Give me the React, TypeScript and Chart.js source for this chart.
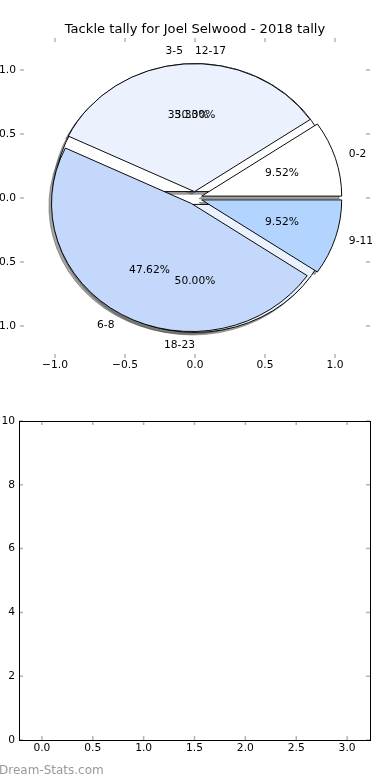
import React, { useEffect, useRef } from "react";
import { Chart, registerables } from "chart.js";

Chart.register(...registerables);

const FONT = "'DejaVu Sans', 'Liberation Sans', sans-serif";

const chartTitle = "Tackle tally for Joel Selwood - 2018 tally";
// pie drawn on top
const tallyLabels = ["0-2", "3-5", "6-8", "9-11"];
const tallyGames = [2, 7, 10, 2];
const tallyColors = ["#ffffff", "#ebf2fe", "#c4d8fc", "#b3d4fe"];
// pie drawn beneath
const highLabels = ["12-17", "18-23"];
const highGames = [1, 1];
const highColors = ["#ffffff", "#ebf2fe"];
const explodeFraction = 0.05;
const pieTickValues = [-1, -0.5, 0, 0.5, 1];
const blankXTickValues = [0, 0.5, 1, 1.5, 2, 2.5, 3];
const blankYTickValues = [0, 2, 4, 6, 8, 10];
const watermark = "Dream-Stats.com";

const TICK_SIZE = 10.7;

const fmt1 = (v: number) => (v < 0 ? "\u2212" : "") + Math.abs(v).toFixed(1);

function geom(chart: any) {
  const sx = chart.scales.x;
  const sy = chart.scales.y;
  const cx = sx.getPixelForValue(0);
  const cy = sy.getPixelForValue(0);
  const rx = sx.getPixelForValue(1) - cx;
  const ry = cy - sy.getPixelForValue(1);
  return { sx, sy, cx, cy, rx, ry, k: ry / rx };
}

function applyEllipse(ctx: CanvasRenderingContext2D, g: any) {
  ctx.translate(g.cx, g.cy);
  ctx.scale(1, -g.k);
  ctx.translate(-g.cx, -g.cy);
}

function drawPieTexts(ctx: CanvasRenderingContext2D, g: any, labels: string[], values: number[]) {
  const total = values.reduce((a, b) => a + b, 0);
  let acc = 0;
  values.forEach((v, i) => {
    const t1 = acc / total;
    acc += v;
    const t2 = acc / total;
    const thetam = Math.PI * (t1 + t2);
    const ex = explodeFraction * Math.cos(thetam);
    const ey = explodeFraction * Math.sin(thetam);
    const xt = ex + 1.1 * Math.cos(thetam);
    const yt = ey + 1.1 * Math.sin(thetam);
    ctx.textAlign = xt > 0 ? "left" : "right";
    ctx.fillText(labels[i], g.sx.getPixelForValue(xt), g.sy.getPixelForValue(yt));
    const xp = ex + 0.6 * Math.cos(thetam);
    const yp = ey + 0.6 * Math.sin(thetam);
    ctx.textAlign = "center";
    ctx.fillText(`${((100 * v) / total).toFixed(2)}%`, g.sx.getPixelForValue(xp), g.sy.getPixelForValue(yp));
  });
}

const piePlugin = {
  id: "pieLayout",
  afterDatasetsUpdate(chart: any) {
    const g = geom(chart);
    const d = explodeFraction * g.rx;
    chart.data.datasets.forEach((_: any, i: number) => {
      const meta = chart.getDatasetMeta(i);
      meta.data.forEach((arc: any) => {
        const mid = (arc.startAngle + arc.endAngle) / 2;
        arc.x = g.cx + Math.cos(mid) * d;
        arc.y = g.cy + Math.sin(mid) * d;
        arc.innerRadius = 0;
        arc.outerRadius = g.rx;
      });
    });
  },
  beforeDatasetsDraw(chart: any) {
    const ctx: CanvasRenderingContext2D = chart.ctx;
    const g = geom(chart);
    // shadows beneath every wedge
    ctx.save();
    ctx.translate(-2.6, 2.6);
    applyEllipse(ctx, g);
    ctx.fillStyle = "rgba(77,77,77,0.5)";
    ctx.strokeStyle = "rgba(77,77,77,0.5)";
    ctx.lineWidth = 1;
    chart.data.datasets.forEach((_: any, i: number) => {
      chart.getDatasetMeta(i).data.forEach((arc: any) => {
        ctx.beginPath();
        ctx.moveTo(arc.x, arc.y);
        ctx.arc(arc.x, arc.y, arc.outerRadius, arc.startAngle, arc.endAngle);
        ctx.closePath();
        ctx.fill();
        ctx.stroke();
      });
    });
    ctx.restore();
    ctx.save();
    applyEllipse(ctx, g);
  },
  afterDatasetsDraw(chart: any) {
    const ctx: CanvasRenderingContext2D = chart.ctx;
    ctx.restore();
    const g = geom(chart);
    ctx.save();
    ctx.fillStyle = "#000";
    ctx.font = `${TICK_SIZE}px ${FONT}`;
    ctx.textBaseline = "middle";
    drawPieTexts(ctx, g, highLabels, highGames);
    drawPieTexts(ctx, g, tallyLabels, tallyGames);
    ctx.restore();
  },
};

const innerTicksPlugin = (frame: boolean) => ({
  id: "innerTicks",
  afterDraw(chart: any) {
    const { ctx, chartArea: a, scales } = chart;
    ctx.save();
    ctx.strokeStyle = "#b4b4b4";
    ctx.lineWidth = 1.5;
    ctx.beginPath();
    scales.x.ticks.forEach((t: any) => {
      const p = scales.x.getPixelForValue(t.value);
      ctx.moveTo(p, a.top);
      ctx.lineTo(p, a.top + 4);
      ctx.moveTo(p, a.bottom);
      ctx.lineTo(p, a.bottom - 4);
    });
    scales.y.ticks.forEach((t: any) => {
      const p = scales.y.getPixelForValue(t.value);
      ctx.moveTo(a.left, p);
      ctx.lineTo(a.left + 4, p);
      ctx.moveTo(a.right, p);
      ctx.lineTo(a.right - 4, p);
    });
    ctx.stroke();
    if (frame) {
      ctx.strokeStyle = "#000";
      ctx.lineWidth = 1;
      ctx.strokeRect(Math.round(a.left) + 0.5, Math.round(a.top) + 0.5, Math.round(a.right - a.left), Math.round(a.bottom - a.top));
    }
    ctx.restore();
  },
});

function axisOpts(ticksArr: number[], min: number, max: number, fmt: (v: number) => string, size: { width?: number; height?: number }, padding: number) {
  return {
    type: "linear" as const,
    min,
    max,
    grid: { display: false, drawTicks: false },
    border: { display: false },
    afterBuildTicks: (axis: any) => {
      axis.ticks = ticksArr.map((v) => ({ value: v }));
    },
    afterFit: (scale: any) => {
      if (size.width !== undefined) scale.width = size.width;
      if (size.height !== undefined) scale.height = size.height;
    },
    ticks: {
      autoSkip: false,
      maxRotation: 0,
      minRotation: 0,
      padding,
      color: "#000",
      font: { family: FONT, size: TICK_SIZE },
      callback: (v: any) => fmt(Number(v)),
    },
  };
}

export default function App() {
  const topRef = useRef<HTMLCanvasElement>(null);
  const botRef = useRef<HTMLCanvasElement>(null);

  useEffect(() => {
    const top = new Chart(topRef.current as HTMLCanvasElement, {
      type: "pie",
      data: {
        labels: tallyLabels,
        datasets: [
          { data: tallyGames, backgroundColor: tallyColors, borderColor: "#000", borderWidth: 1, borderJoinStyle: "miter" } as any,
          { data: highGames, backgroundColor: highColors, borderColor: "#000", borderWidth: 1, borderJoinStyle: "miter" } as any,
        ],
      },
      options: {
        responsive: false,
        animation: false,
        events: [],
        rotation: 90,
        layout: { padding: { left: 0, right: 0, top: 0, bottom: 0 } },
        plugins: {
          legend: { display: false },
          tooltip: { enabled: false },
          title: {
            display: true,
            text: chartTitle,
            color: "#000",
            font: { family: FONT, size: 13.1, weight: "normal" },
            padding: { top: 22, bottom: 0.3 },
          },
        },
        scales: {
          x: { ...axisOpts(pieTickValues, -1.25, 1.25, fmt1, { height: 22 }, 1), position: "bottom" },
          y: { ...axisOpts(pieTickValues, -1.25, 1.25, fmt1, { width: 40 }, 4), position: "left" },
          yRight: {
            type: "linear",
            position: "right",
            min: -1.25,
            max: 1.25,
            grid: { display: false, drawTicks: false },
            border: { display: false },
            ticks: { display: false },
            afterFit: (scale: any) => {
              scale.width = 40;
            },
          },
        },
      } as any,
      plugins: [piePlugin, innerTicksPlugin(false)],
    });

    const bot = new Chart(botRef.current as HTMLCanvasElement, {
      type: "scatter",
      data: { datasets: [] },
      options: {
        responsive: false,
        animation: false,
        events: [],
        layout: { padding: { left: 0, right: 20, top: 41, bottom: 0 } },
        plugins: { legend: { display: false }, tooltip: { enabled: false } },
        scales: {
          x: { ...axisOpts(blankXTickValues, -0.225, 3.225, (v) => v.toFixed(1), { height: 40 }, 2), position: "bottom" },
          y: { ...axisOpts(blankYTickValues, 0, 10, (v) => String(Math.round(v)), { width: 19 }, 4), position: "left" },
        },
      } as any,
      plugins: [innerTicksPlugin(true)],
    });

    return () => {
      top.destroy();
      bot.destroy();
    };
  }, []);

  return (
    <div style={{ position: "absolute", left: 0, top: 0, width: 390, height: 780, overflow: "hidden", background: "#fff" }}>
      <canvas ref={topRef} width={430} height={380} style={{ position: "absolute", left: -20, top: 0, display: "block" }} />
      <canvas ref={botRef} width={390} height={400} style={{ position: "absolute", left: 0, top: 380, display: "block" }} />
      <div
        style={{
          position: "absolute",
          left: -1,
          top: 763,
          fontFamily: FONT,
          fontSize: 12,
          lineHeight: "14px",
          color: "#999",
          whiteSpace: "nowrap",
        }}
      >
        {watermark}
      </div>
    </div>
  );
}
